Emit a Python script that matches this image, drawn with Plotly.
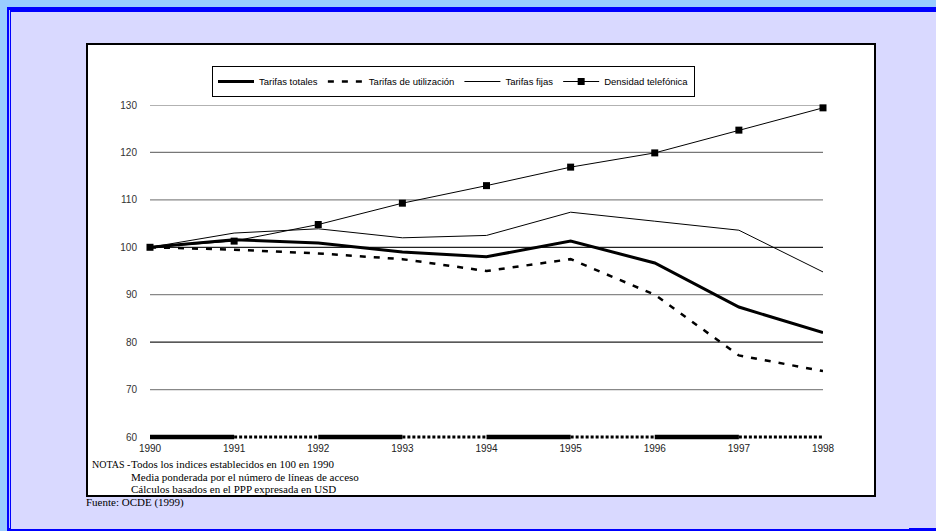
import plotly.graph_objects as go

years = [1990, 1991, 1992, 1993, 1994, 1995, 1996, 1997, 1998]
tarifas_totales = [100, 101.6, 100.9, 99.0, 98.0, 101.3, 96.7, 87.4, 82.0]
tarifas_utilizacion = [100, 99.5, 98.7, 97.5, 95.0, 97.5, 90.0, 77.2, 73.9]
tarifas_fijas = [100, 103.0, 103.9, 102.0, 102.5, 107.4, 105.5, 103.6, 94.8]
densidad = [100, 101.3, 104.8, 109.3, 113.0, 116.9, 119.9, 124.7, 129.4]
y_ticks = [60, 70, 80, 90, 100, 110, 120, 130]
notes_label = "NOTAS -"
notes = ["Todos los indices establecidos en 100 en 1990",
         "Media ponderada por el número de líneas de acceso",
         "Cálculos basados en el PPP expresada en USD"]
source = "Fuente: OCDE (1999)"

W, H = 936, 531
def px(x):
    return x / W
def py(y):
    return 1 - y / H

Y_LO = 59.2  # a little room below the axis so the thick axis line is not clipped
unit = (437 - 105) / (y_ticks[-1] - y_ticks[0])
y_bottom_px = 437 + (y_ticks[0] - Y_LO) * unit

fig = go.Figure()
fig.add_trace(go.Scatter(x=years, y=tarifas_totales, name="Tarifas totales", mode="lines",
                         line=dict(color="black", width=3), cliponaxis=False))
fig.add_trace(go.Scatter(x=years, y=tarifas_utilizacion, name="Tarifas de utilización", mode="lines",
                         line=dict(color="black", width=2.5, dash="6px,8px"), cliponaxis=False))
fig.add_trace(go.Scatter(x=years, y=tarifas_fijas, name="Tarifas fijas", mode="lines",
                         line=dict(color="black", width=1), cliponaxis=False))
fig.add_trace(go.Scatter(x=years, y=densidad, name="Densidad telefónica", mode="lines+markers",
                         line=dict(color="black", width=1),
                         marker=dict(symbol="square", size=7, color="black"), cliponaxis=False))

shapes = []
# frame
shapes.append(dict(type="rect", xref="paper", yref="paper", x0=px(7), x1=px(936), y0=py(531), y1=py(7),
                   fillcolor="#0000ff", line=dict(width=0), layer="below"))
shapes.append(dict(type="rect", xref="paper", yref="paper", x0=px(9), x1=px(10), y0=py(528), y1=py(10),
                   fillcolor="#b8c8ff", line=dict(width=0), layer="below"))
shapes.append(dict(type="rect", xref="paper", yref="paper", x0=px(11), x1=px(936), y0=py(529), y1=py(12),
                   fillcolor="#d9d9ff", line=dict(width=0), layer="below"))
shapes.append(dict(type="rect", xref="paper", yref="paper", x0=px(909), x1=px(936), y0=py(531), y1=py(528),
                   fillcolor="#0000ff", line=dict(width=0), layer="below"))
shapes.append(dict(type="rect", xref="paper", yref="paper", x0=px(87), x1=px(875), y0=py(496), y1=py(44),
                   fillcolor="white", line=dict(color="black", width=2), layer="below"))
# gridlines
grid_colors = {70: "#888888", 80: "#222222", 90: "#888888", 100: "#222222",
               110: "#888888", 120: "#777777", 130: "#666666"}
for v in y_ticks[1:]:
    shapes.append(dict(type="line", xref="x", yref="y", x0=years[0], x1=years[-1], y0=v, y1=v,
                       line=dict(color=grid_colors[v], width=1.2), layer="below"))
# axis line at 60: alternating thick and dotted segments
for i in range(len(years) - 1):
    if i % 2 == 0:
        ln = dict(color="black", width=4.5)
    else:
        ln = dict(color="black", width=3, dash="3px,2px")
    shapes.append(dict(type="line", xref="x", yref="y", x0=years[i], x1=years[i + 1],
                       y0=y_ticks[0], y1=y_ticks[0], line=ln, layer="above"))

serif = dict(family="Liberation Serif, Times New Roman, serif", size=11, color="black")
annotations = [dict(xref="paper", yref="paper", x=px(90), y=py(464), xanchor="left", yanchor="middle",
                    showarrow=False, text=notes_label,
                    font=dict(family="Liberation Serif, Times New Roman, serif", size=10, color="black"))]
for i, t in enumerate(notes):
    annotations.append(dict(xref="paper", yref="paper", x=px(129), y=py(464 + 12.5 * i),
                            xanchor="left", yanchor="middle", showarrow=False, text=t, font=serif))
annotations.append(dict(xref="paper", yref="paper", x=px(84), y=py(502), xanchor="left", yanchor="middle",
                        showarrow=False, text=source, font=serif))

fig.update_layout(
    width=W, height=H,
    margin=dict(l=0, r=0, t=0, b=0, pad=0, autoexpand=False),
    paper_bgcolor="#99ccff",
    plot_bgcolor="rgba(0,0,0,0)",
    font=dict(family="Liberation Sans, Arial, sans-serif", size=10, color="#333333"),
    xaxis=dict(domain=[px(150), px(823)], range=[years[0], years[-1]], tickmode="array",
               tickvals=years, ticktext=[str(y) for y in years], showgrid=False, zeroline=False,
               showline=False, ticks="", automargin=False, tickfont=dict(size=10, color="#222222")),
    yaxis=dict(domain=[py(y_bottom_px), py(105)], range=[Y_LO, y_ticks[-1]], tickmode="array",
               tickvals=y_ticks, showgrid=False, zeroline=False, showline=False,
               ticks="outside", ticklen=10, tickcolor="rgba(0,0,0,0)", automargin=False,
               tickfont=dict(size=10, color="#333333")),
    legend=dict(orientation="h", x=px(453.5), y=py(66), xanchor="center", yanchor="top",
                bgcolor="white", bordercolor="black", borderwidth=1, itemwidth=36,
                font=dict(size=9.5, color="black"), itemclick=False),
    shapes=shapes,
    annotations=annotations,
    showlegend=True,
)

fig.write_html("out.html", config={"displayModeBar": False},
               post_script="document.body.style.margin='0';document.body.style.padding='0';")
